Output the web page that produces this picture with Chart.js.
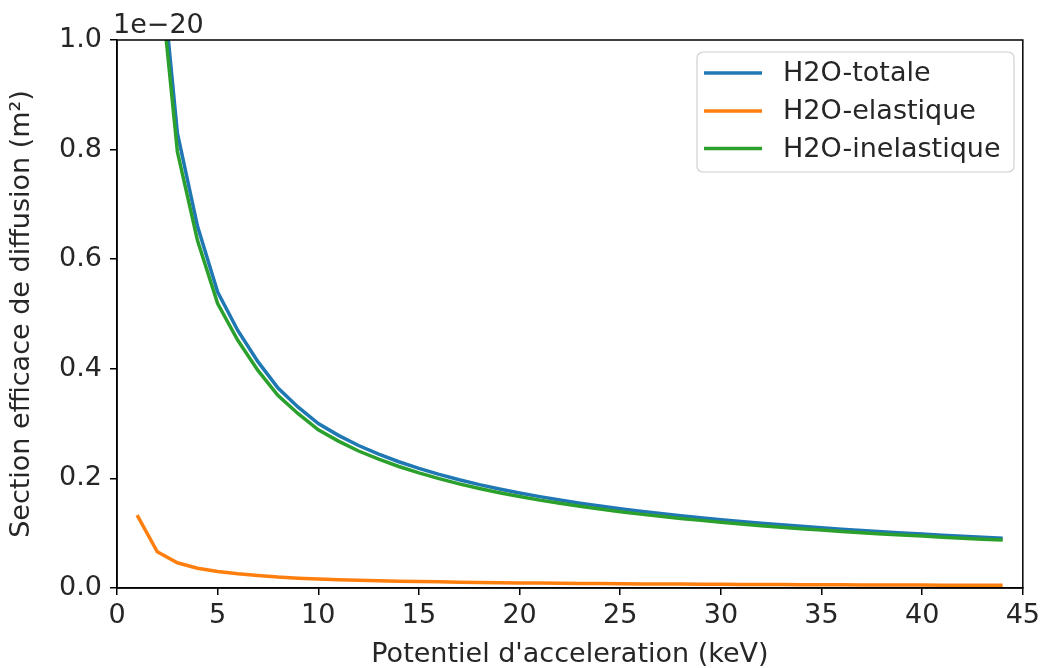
<!DOCTYPE html>
<html>
<head>
<meta charset="utf-8">
<script src="https://cdn.jsdelivr.net/npm/chart.js@4/dist/chart.umd.min.js"></script>
<style>
html,body{margin:0;padding:0;background:#fff;}
#wrap{width:1045px;height:668px;}
</style>
</head>
<body>
<div id="wrap"><canvas id="c" width="1045" height="668"></canvas></div>
<script>
// Accelerating potential (keV)
const energies = [1,2,3,4,5,6,7,8,9,10,11,12,13,14,15,16,17,18,19,20,21,22,23,24,25,26,27,28,29,30,31,32,33,34,35,36,37,38,39,40,41,42,43,44];
// Cross sections in units of 1e-20 m^2
const totale = [2.10,1.21,0.830,0.660,0.540,0.470,0.413,0.365,0.330,0.300,0.2785,0.260,0.2443,0.2304,0.2182,0.2073,0.1975,0.1886,0.1806,0.1733,0.1667,0.1605,0.1548,0.1496,0.1447,0.1401,0.1359,0.1319,0.1282,0.1247,0.1214,0.1182,0.1153,0.1125,0.1098,0.1073,0.1049,0.1026,0.1005,0.0984,0.0964,0.0945,0.0926,0.0909];
const elastique = [0.133,0.066,0.046,0.036,0.030,0.026,0.023,0.020,0.018,0.0165,0.0152,0.0142,0.0133,0.0125,0.0118,0.0112,0.0106,0.0101,0.0097,0.0093,0.0089,0.0086,0.0083,0.0080,0.0077,0.0075,0.0073,0.0071,0.0069,0.0067,0.0065,0.0063,0.0062,0.0060,0.0059,0.0058,0.0056,0.0055,0.0054,0.0053,0.0052,0.0051,0.0050,0.0049];
const inelastique = [2.00,1.165,0.796,0.634,0.519,0.452,0.397,0.351,0.318,0.2885,0.268,0.250,0.2350,0.2217,0.2100,0.1995,0.1900,0.1815,0.1738,0.1668,0.1604,0.1545,0.1490,0.1440,0.1393,0.1348,0.1308,0.1269,0.1234,0.1200,0.1168,0.1138,0.1110,0.1083,0.1057,0.1032,0.1009,0.0987,0.0967,0.0947,0.0928,0.0909,0.0891,0.0875];
const seriesLabels = ['H2O-totale','H2O-elastique','H2O-inelastique'];
const xTicks = [0,5,10,15,20,25,30,35,40,45];
const yTicks = [0.0,0.2,0.4,0.6,0.8,1.0];
const offsetLabel = '1e\u221220';

const FONT = 'DejaVu Sans';
const FS = 27;
const TXT = '#262626';
const colors = ['#1f77b4','#ff7f0e','#2ca02c'];

function pts(ys){ return energies.map((x,i)=>({x:x,y:ys[i]})); }

const framePlugin = {
  id:'frame',
  afterDatasetsDraw(chart){
    const {ctx, chartArea:a} = chart;
    ctx.save();
    ctx.strokeStyle = '#000';
    ctx.lineWidth = 1.5;
    ctx.strokeRect(a.left, a.top, a.right-a.left, a.bottom-a.top);
    ctx.fillStyle = TXT;
    ctx.font = FS + 'px "' + FONT + '"';
    ctx.textAlign = 'left';
    ctx.textBaseline = 'alphabetic';
    ctx.fillText(offsetLabel, a.left - 4, a.top - 7);
    // legend
    const bx = 697, by = 52, bw = 317, bh = 120, r = 6;
    ctx.beginPath();
    ctx.moveTo(bx+r,by);
    ctx.arcTo(bx+bw,by,bx+bw,by+bh,r);
    ctx.arcTo(bx+bw,by+bh,bx,by+bh,r);
    ctx.arcTo(bx,by+bh,bx,by,r);
    ctx.arcTo(bx,by,bx+bw,by,r);
    ctx.closePath();
    ctx.fillStyle = 'rgba(255,255,255,0.8)';
    ctx.fill();
    ctx.strokeStyle = '#d0d0d0';
    ctx.lineWidth = 1.2;
    ctx.stroke();
    const rows = [73,111,148.5];
    chart.data.datasets.forEach((ds,i)=>{
      ctx.strokeStyle = ds.borderColor;
      ctx.lineWidth = 3.5;
      ctx.beginPath();
      ctx.moveTo(704, rows[i]);
      ctx.lineTo(762, rows[i]);
      ctx.stroke();
      ctx.fillStyle = TXT;
      ctx.textBaseline = 'middle';
      ctx.fillText(ds.label, 783, rows[i]+1);
    });
    ctx.restore();
  }
};

new Chart(document.getElementById('c'), {
  type:'line',
  data:{
    datasets:[
      {label:seriesLabels[0], data:pts(totale), borderColor:colors[0], backgroundColor:colors[0], borderWidth:3.5, pointRadius:0, order:3, tension:0},
      {label:seriesLabels[1], data:pts(elastique), borderColor:colors[1], backgroundColor:colors[1], borderWidth:3.5, pointRadius:0, order:2, tension:0},
      {label:seriesLabels[2], data:pts(inelastique), borderColor:colors[2], backgroundColor:colors[2], borderWidth:3.5, pointRadius:0, order:1, tension:0}
    ]
  },
  options:{
    responsive:false,
    animation:false,
    events:[],
    layout:{padding:{top:40,right:18,left:0,bottom:0}},
    plugins:{legend:{display:false}, tooltip:{enabled:false}},
    scales:{
      x:{
        type:'linear', min:0, max:45,
        afterBuildTicks(axis){ axis.ticks = xTicks.map(v=>({value:v})); },
        afterFit(axis){ axis.height = 80; },
        grid:{drawOnChartArea:false, drawTicks:true, tickLength:7, color:'#000', lineWidth:1.5},
        border:{display:true, color:'#000', width:1.5},
        ticks:{color:TXT, font:{family:FONT,size:FS}, padding:5, maxRotation:0, callback:(v)=>String(v)},
        title:{display:true, text:"Potentiel d'acceleration (keV)", color:TXT, font:{family:FONT,size:FS}, padding:{top:0,bottom:-3}}
      },
      y:{
        type:'linear', min:0, max:1,
        afterBuildTicks(axis){ axis.ticks = yTicks.map(v=>({value:v})); },
        afterFit(axis){ axis.width = 117; },
        grid:{drawOnChartArea:false, drawTicks:true, tickLength:7, color:'#000', lineWidth:1.5},
        border:{display:true, color:'#000', width:1.5},
        ticks:{color:TXT, font:{family:FONT,size:FS}, padding:8, callback:(v)=>Number(v).toFixed(1)},
        title:{display:true, text:'Section efficace de diffusion (m\u00B2)', color:TXT, font:{family:FONT,size:FS}, padding:{top:6,bottom:0}}
      }
    }
  },
  plugins:[framePlugin]
});
</script>
</body>
</html>
